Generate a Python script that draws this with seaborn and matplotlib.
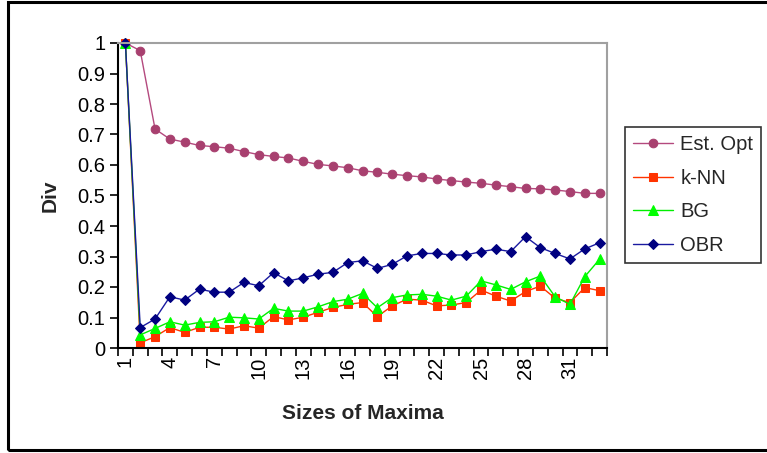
import numpy as np
import pandas as pd
import matplotlib
matplotlib.use("Agg")
import matplotlib.pyplot as plt
import matplotlib.ticker as ticker
from matplotlib.patches import Rectangle
import seaborn as sns

# Valores (tamaños 1..33)
sizes = list(range(1, 34))
est_opt = [1.0, 0.975, 0.718, 0.685, 0.675, 0.664, 0.660, 0.655, 0.644, 0.634,
           0.628, 0.623, 0.612, 0.602, 0.597, 0.591, 0.581, 0.576, 0.570, 0.565,
           0.561, 0.554, 0.549, 0.544, 0.540, 0.534, 0.529, 0.523, 0.522, 0.518,
           0.513, 0.507, 0.507]
knn = [1.0, 0.017, 0.037, 0.067, 0.051, 0.068, 0.068, 0.062, 0.073, 0.065,
       0.103, 0.092, 0.101, 0.117, 0.133, 0.143, 0.149, 0.103, 0.138, 0.160,
       0.157, 0.138, 0.141, 0.149, 0.190, 0.170, 0.154, 0.185, 0.203, 0.163,
       0.149, 0.198, 0.188]
bg = [1.0, 0.043, 0.064, 0.086, 0.075, 0.084, 0.086, 0.101, 0.099, 0.095,
      0.130, 0.121, 0.121, 0.135, 0.152, 0.160, 0.179, 0.132, 0.165, 0.174,
      0.176, 0.170, 0.157, 0.170, 0.220, 0.207, 0.192, 0.217, 0.236, 0.168,
      0.143, 0.234, 0.291]
obr = [1.0, 0.067, 0.095, 0.168, 0.157, 0.193, 0.183, 0.183, 0.215, 0.204,
       0.247, 0.220, 0.230, 0.242, 0.248, 0.280, 0.286, 0.261, 0.274, 0.302,
       0.310, 0.310, 0.305, 0.305, 0.316, 0.324, 0.316, 0.365, 0.329, 0.310,
       0.292, 0.325, 0.345]

series = {"Est. Opt": est_opt, "k-NN": knn, "BG": bg, "OBR": obr}

df = pd.DataFrame({
    "size": sizes * len(series),
    "div": sum(series.values(), []),
    "method": np.repeat(list(series.keys()), len(sizes)),
})

estilos = {
    "Est. Opt": dict(line="#b4497e", face="#a8406f", marker="o", ms=6.2),
    "k-NN": dict(line="#ff3300", face="#ff3300", marker="s", ms=6.2),
    "BG": dict(line="#00ee00", face="#00ff00", marker="^", ms=6.8),
    "OBR": dict(line="#1a1aa0", face="#000080", marker="D", ms=5.4),
}

sns.set_theme(style="white")
plt.rcParams["font.family"] = ["Liberation Sans", "DejaVu Sans"]

fig = plt.figure(figsize=(7.67, 4.53), dpi=100)
ax = fig.add_axes([118 / 767, 1 - 348 / 453, (607 - 118) / 767, (348 - 43) / 453])

for nombre, st in estilos.items():
    sns.lineplot(
        data=df[df["method"] == nombre], x="size", y="div",
        color=st["line"], marker=st["marker"], markersize=st["ms"],
        markerfacecolor=st["face"], markeredgecolor=st["face"],
        linewidth=1.0, label=nombre, ax=ax, clip_on=False,
    )

ax.set_xlim(0.5, 33.5)
ax.set_ylim(0, 1)
ax.yaxis.set_major_locator(ticker.MultipleLocator(0.1))
ax.yaxis.set_major_formatter(ticker.FuncFormatter(lambda v, p: f"{v:g}"))
ax.set_xticks(range(1, 34, 3))
ax.set_xticklabels([str(s) for s in range(1, 34, 3)], rotation=90)
ax.xaxis.set_minor_locator(ticker.FixedLocator(np.arange(0.5, 34, 1)))
ax.tick_params(axis="x", which="major", length=0, labelsize=14.5, pad=6, colors="black")
ax.tick_params(axis="x", which="minor", length=6, width=1.2, direction="out",
               color="black", bottom=True)
ax.tick_params(axis="y", length=6, width=1.2, direction="out", labelsize=14.5,
               left=True, pad=3, colors="black")

for lado in ["left", "bottom"]:
    ax.spines[lado].set_color("black")
    ax.spines[lado].set_linewidth(1.5)
for lado in ["top", "right"]:
    ax.spines[lado].set_color("#a0a0a0")
    ax.spines[lado].set_linewidth(1.5)

ax.set_xlabel("Sizes of Maxima", fontsize=15, fontweight="bold", labelpad=18)
ax.set_ylabel("Div", fontsize=15, fontweight="bold", labelpad=13)

handles, labels = ax.get_legend_handles_labels()
ax.legend_.remove()
leg = fig.legend(handles, labels, loc="upper left",
                 bbox_to_anchor=(625 / 767, 1 - 127 / 453), borderaxespad=0,
                 fontsize=14.5, frameon=True, fancybox=False, edgecolor="black",
                 handlelength=2.0, labelspacing=0.72, borderpad=0.4,
                 handletextpad=0.35)
leg.get_frame().set_linewidth(1.2)

# marco exterior del área del gráfico
fig.patches.append(Rectangle((8 / 767, 3 / 453), 1.0, 1 - 5 / 453,
                             transform=fig.transFigure, fill=False,
                             edgecolor="black", linewidth=2.2))

fig.savefig("out.png", dpi=100, facecolor="white")
